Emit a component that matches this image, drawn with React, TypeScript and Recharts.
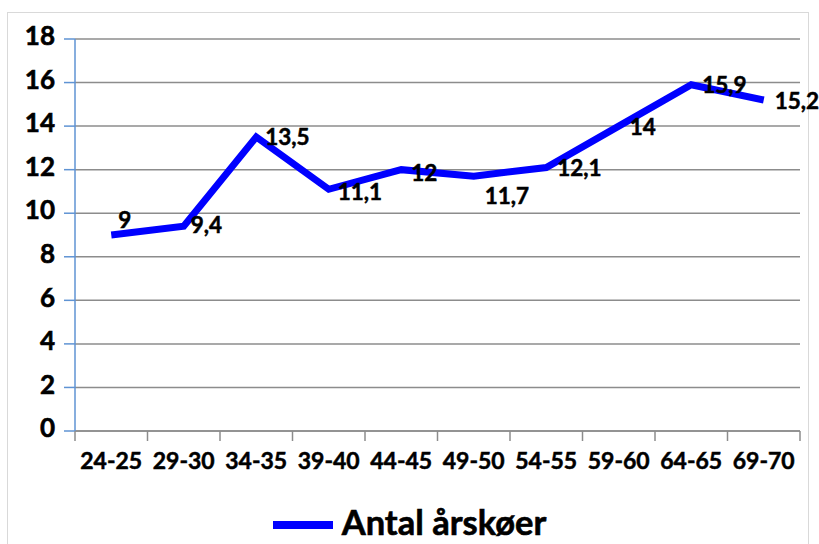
import React from 'react';
import { LineChart, Line, XAxis, YAxis, CartesianGrid, Legend, LabelList } from 'recharts';

const categories = ['24-25', '29-30', '34-35', '39-40', '44-45', '49-50', '54-55', '59-60', '64-65', '69-70'];
const values = [9, 9.4, 13.5, 11.1, 12, 11.7, 12.1, 14, 15.9, 15.2];
const yTicks = [0, 2, 4, 6, 8, 10, 12, 14, 16, 18];
const seriesName = 'Antal årskøer';

// label placement nudges (layout only), [dx, dy] relative to the point
const labelNudge: [number, number][] = [
  [7, -15], [7, -1], [9, 0], [9, 3], [10, 3], [11, 20], [11, 1], [11, 1], [11, 0], [11, 1],
];

const data = categories.map((c, i) => ({ idx: i, cat: c, value: values[i] }));
const xTicks: number[] = [];
for (let i = 0; i <= categories.length * 2; i++) xTicks.push(i / 2 - 0.5);

const FONT = 'Lato, "Open Sans", sans-serif';
const GRID = '#8c8c8c';
const BLUE_AXIS = '#5f93d3';

const XTick = (props: any) => {
  const { x, y, payload } = props;
  const v = payload.value as number;
  const axisY = y - 10;
  if (Number.isInteger(v)) {
    return (
      <text x={x} y={axisY + 38} textAnchor="middle" fontSize={23} fontWeight={700} fill="#000" stroke="#000" strokeWidth={0.5} fontFamily={FONT}>
        {categories[v]}
      </text>
    );
  }
  return <line x1={x} x2={x} y1={axisY} y2={axisY + 10} stroke={GRID} strokeWidth={1.5} />;
};

const ValueLabel = (props: any) => {
  const { x, y, value, index } = props;
  const [dx, dy] = labelNudge[index] || [9, 0];
  return (
    <text x={x + dx} y={y + dy + 8} textAnchor="start" fontSize={22.5} fontWeight={700} fill="#000" stroke="#000" strokeWidth={0.5} fontFamily={FONT}>
      {String(value).replace('.', ',')}
    </text>
  );
};

const LegendContent = () => (
  <div
    style={{
      height: 50,
      boxSizing: 'border-box',
      paddingTop: 7,
      display: 'flex',
      justifyContent: 'center',
      alignItems: 'center',
    }}
  >
    <div style={{ width: 60, height: 8, background: '#0000FF', marginTop: 5, marginRight: 9 }} />
    <span
      style={{
        fontFamily: FONT,
        fontWeight: 700,
        fontSize: 34.5,
        lineHeight: 1,
        color: '#000',
        WebkitTextStroke: '0.6px #000',
      }}
    >
      {seriesName}
    </span>
  </div>
);

export default function App() {
  return (
    <div style={{ position: 'absolute', left: 0, top: 0, width: 819, height: 544, fontFamily: FONT, overflow: 'hidden' }}>
      <div
        style={{
          position: 'absolute',
          left: 7,
          top: 12,
          width: 802,
          height: 532,
          border: '1px solid #d9d9d9',
          borderBottom: 'none',
          boxSizing: 'border-box',
        }}
      />
      <div style={{ position: 'absolute', left: 0, top: 0 }}>
        <LineChart width={819} height={544} data={data} margin={{ top: 39, right: 19, left: 0, bottom: 0 }}>
          <CartesianGrid vertical={false} stroke={GRID} strokeWidth={1.5} />
          <XAxis
            dataKey="idx"
            type="number"
            domain={[-0.5, categories.length - 0.5]}
            ticks={xTicks}
            interval={0}
            tickLine={false}
            tickSize={10}
            tickMargin={0}
            height={63}
            axisLine={{ stroke: GRID, strokeWidth: 1.5 }}
            tick={<XTick />}
          />
          <YAxis
            domain={[0, 18]}
            ticks={yTicks}
            interval={0}
            width={75}
            tickSize={11}
            tickMargin={9}
            axisLine={{ stroke: BLUE_AXIS, strokeWidth: 1.5 }}
            tickLine={{ stroke: BLUE_AXIS, strokeWidth: 1.5 }}
            tick={{ fontSize: 26, fontWeight: 700, fill: '#000', stroke: '#000', strokeWidth: 0.6, fontFamily: FONT, dy: -3 }}
          />
          <Legend
            verticalAlign="bottom"
            align="center"
            wrapperStyle={{ left: 0, width: 819 }}
            content={<LegendContent />}
          />
          <Line
            type="linear"
            dataKey="value"
            name={seriesName}
            stroke="#0000FF"
            strokeWidth={7}
            dot={false}
            activeDot={false}
            isAnimationActive={false}
          >
            <LabelList dataKey="value" content={<ValueLabel />} />
          </Line>
        </LineChart>
      </div>
    </div>
  );
}
